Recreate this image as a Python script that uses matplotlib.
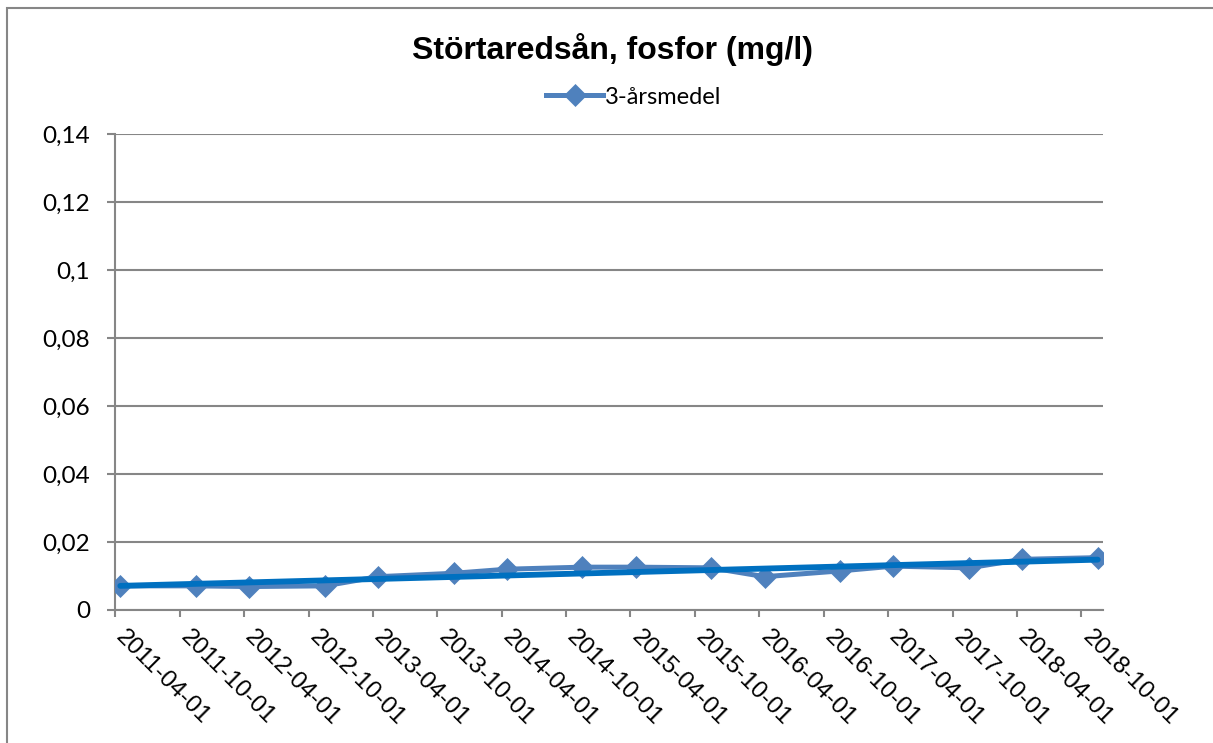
import matplotlib
matplotlib.use("Agg")
import matplotlib.pyplot as plt
import matplotlib.dates as mdates
from matplotlib.patches import Rectangle
import numpy as np
import pandas as pd

# sample dates (centre of April / November each year) and 3-year mean values
dates = ["2011-04-16", "2011-11-16", "2012-04-16", "2012-11-16",
         "2013-04-16", "2013-11-16", "2014-04-16", "2014-11-16",
         "2015-04-16", "2015-11-16", "2016-04-16", "2016-11-16",
         "2017-04-16", "2017-11-16", "2018-04-16", "2018-11-16"]
values = [0.0071, 0.0071, 0.0069, 0.0071, 0.0098, 0.0108, 0.0120, 0.0126,
          0.0126, 0.0124, 0.0098, 0.0115, 0.0129, 0.0124, 0.0149, 0.0154]

tick_dates = ["2011-04-01", "2011-10-01", "2012-04-01", "2012-10-01",
              "2013-04-01", "2013-10-01", "2014-04-01", "2014-10-01",
              "2015-04-01", "2015-10-01", "2016-04-01", "2016-10-01",
              "2017-04-01", "2017-10-01", "2018-04-01", "2018-10-01"]
y_ticks = [0, 0.02, 0.04, 0.06, 0.08, 0.1, 0.12, 0.14]
y_labels = ["0", "0,02", "0,04", "0,06", "0,08", "0,1", "0,12", "0,14"]

SERIES = "#4F81BD"
TREND = "#0070C0"
GRID = "#868686"
FONT = ["Lato", "DejaVu Sans"]
ARIAL = ["Liberation Sans", "DejaVu Sans"]

W, H = 1213, 743
fig = plt.figure(figsize=(W / 100, H / 100), dpi=100)
ax = fig.add_axes([115 / W, 1 - 610 / H, (1103 - 115) / W, (610 - 134) / H])

x = pd.to_datetime(dates)
xn = mdates.date2num(x)
ax.plot(x, values, color=SERIES, lw=3.6, marker="D", ms=11, mfc=SERIES,
        mec=SERIES, mew=0.5, zorder=3, label="3-årsmedel")

# linear trend line over the series
k, m = np.polyfit(xn, values, 1)
ax.plot(x[[0, -1]], k * xn[[0, -1]] + m, color=TREND, lw=4.2, zorder=4,
        solid_capstyle="round")

ax.set_xlim(pd.Timestamp("2011-04-01"), pd.Timestamp("2018-12-01"))
ax.set_ylim(0, 0.14)
ax.set_xticks(pd.to_datetime(tick_dates))
ax.set_xticklabels(tick_dates, rotation=-45, ha="left", va="baseline",
                   rotation_mode="anchor", family=ARIAL, fontsize=17.5)
ax.set_yticks(y_ticks)
ax.set_yticklabels(y_labels, family=FONT, fontsize=17.5)

ax.grid(True, axis="y", color=GRID, lw=1.5)
ax.set_axisbelow(True)
for s in ("top", "right"):
    ax.spines[s].set_visible(False)
for s in ("left", "bottom"):
    ax.spines[s].set_color(GRID)
    ax.spines[s].set_linewidth(1.5)
ax.tick_params(axis="y", length=6, width=1.5, color=GRID, pad=12)
ax.tick_params(axis="x", length=5, width=1.5, color=GRID, pad=15)

fig.text(612 / W, 1 - 50 / H, "Störtaredsån, fosfor (mg/l)", ha="center",
         va="center", family=ARIAL, fontweight="bold", fontsize=23)
fig.legend(loc="center", bbox_to_anchor=(634 / W, 1 - 97 / H), frameon=False,
           prop={"family": FONT, "size": 17}, handlelength=2.4,
           handletextpad=0.1, borderpad=0)

fig.patches.append(Rectangle((7 / W, -0.1), 1.2, 1.1 - 8 / H,
                             transform=fig.transFigure, fill=False,
                             ec=GRID, lw=1.5))

fig.savefig("out.png", dpi=100, facecolor="white")
